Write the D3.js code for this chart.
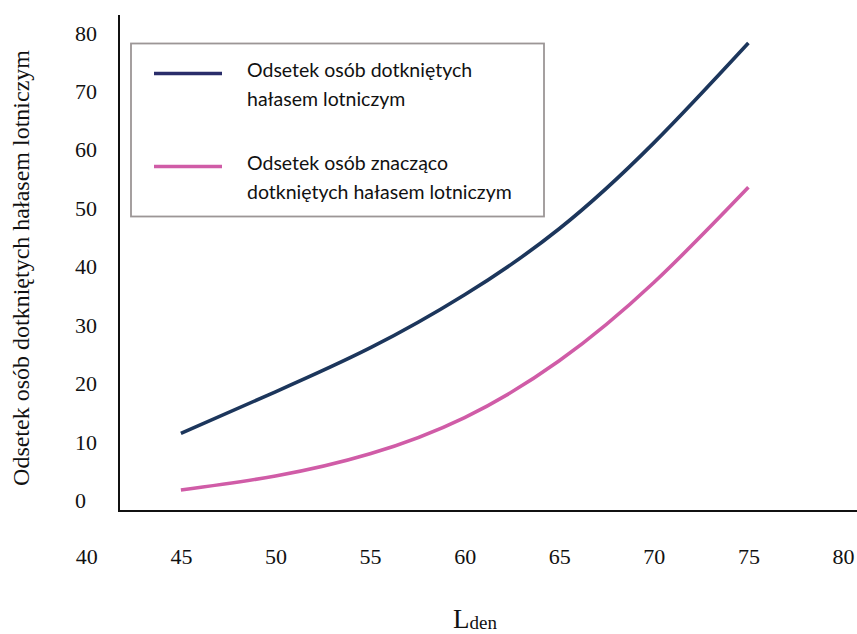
<!DOCTYPE html>
<html><head><meta charset="utf-8">
<script src="https://cdn.jsdelivr.net/npm/d3@7"></script>
<style>body{margin:0;background:#fff}</style>
</head><body>
<svg id="chart" width="857" height="634"></svg>
<script>
const lden = [45, 50, 55, 60, 65, 70, 75];
const affected = [11.5, 18.6, 26.1, 35.2, 46.5, 61.2, 78.3];
const highlyAffected = [1.8, 4.2, 8.0, 14.2, 23.9, 37.3, 53.6];
const xTicks = [40, 45, 50, 55, 60, 65, 70, 75, 80];
const yTicks = [0, 10, 20, 30, 40, 50, 60, 70, 80];
const seriesNames = ["Odsetek osób dotkniętych|hałasem lotniczym", "Odsetek osób znacząco|dotkniętych hałasem lotniczym"];
const colors = ["#1c365c", "#d05ca7"];
const legendColors = ["#2a2d6a", "#d05ca7"];

const svg = d3.select("#chart");
const x = d3.scaleLinear().domain([40, 80]).range([86.3, 843]);
const y = d3.scaleLinear().domain([0, 80]).range([500.5, 33]);
const serif = "'Liberation Serif', 'Times New Roman', serif";

// axis lines
svg.append("line").attr("x1", 119).attr("x2", 119).attr("y1", 15).attr("y2", 511.5)
  .attr("stroke", "#111").attr("stroke-width", 2);
svg.append("line").attr("x1", 118).attr("x2", 857).attr("y1", 511).attr("y2", 511)
  .attr("stroke", "#111").attr("stroke-width", 2);

// x axis labels
const gx = svg.append("g").attr("transform", "translate(0,548)")
  .call(d3.axisBottom(x).tickValues(xTicks).tickSize(0).tickPadding(0).tickFormat(d3.format("d")));
gx.select(".domain").remove();
gx.attr("font-family", null).style("font-family", serif).style("font-size", "22px");
gx.selectAll("text").style("font-family", serif).style("font-size", "22px").attr("fill", "#111").attr("dy", "0.71em");

// y axis labels
const gy = svg.append("g").attr("transform", "translate(75,0)")
  .call(d3.axisLeft(y).tickValues(yTicks).tickSize(0).tickPadding(0).tickFormat(d3.format("d")));
gy.select(".domain").remove();
gy.attr("font-family", null).style("font-family", serif).style("font-size", "22px");
gy.selectAll("text").attr("text-anchor", "start").attr("x", 0)
  .style("font-family", serif).style("font-size", "22px").attr("fill", "#111");

// y title
svg.append("text").attr("transform", "translate(29,268) rotate(-90)")
  .attr("text-anchor", "middle").style("font-family", serif).style("font-size", "24px").attr("fill", "#111")
  .text("Odsetek osób dotkniętych hałasem lotniczym");

// x title
const xt = svg.append("text").attr("x", 453).attr("y", 628).style("font-family", serif).attr("fill", "#111");
xt.append("tspan").style("font-size", "27px").text("L");
xt.append("tspan").style("font-size", "19px").attr("dy", 1).text("den");

// lines
const line = d3.line().x(d => x(d[0])).y(d => y(d[1])).curve(d3.curveNatural);
[affected, highlyAffected].forEach((vals, i) => {
  svg.append("path").datum(lden.map((l, j) => [l, vals[j]]))
    .attr("d", line).attr("fill", "none").attr("stroke", colors[i]).attr("stroke-width", 3.6)
    .attr("stroke-linecap", "butt");
});

// legend
svg.append("rect").attr("x", 131).attr("y", 43.5).attr("width", 413).attr("height", 173)
  .attr("fill", "#fff").attr("stroke", "#9c9696").attr("stroke-width", 1.8);
const legY = [73.5, 166.5];
seriesNames.forEach((name, i) => {
  svg.append("line").attr("x1", 154).attr("x2", 222).attr("y1", legY[i]).attr("y2", legY[i])
    .attr("stroke", legendColors[i]).attr("stroke-width", 3.6);
  const parts = name.split("|");
  parts.forEach((p, k) => {
    svg.append("text").attr("x", 247).attr("y", legY[i] + 3.5 + k * 28.5)
      .style("font-family", "Lato, 'Open Sans', sans-serif").style("font-size", "19.5px").attr("fill", "#111")
      .text(p);
  });
});
</script>
</body></html>
